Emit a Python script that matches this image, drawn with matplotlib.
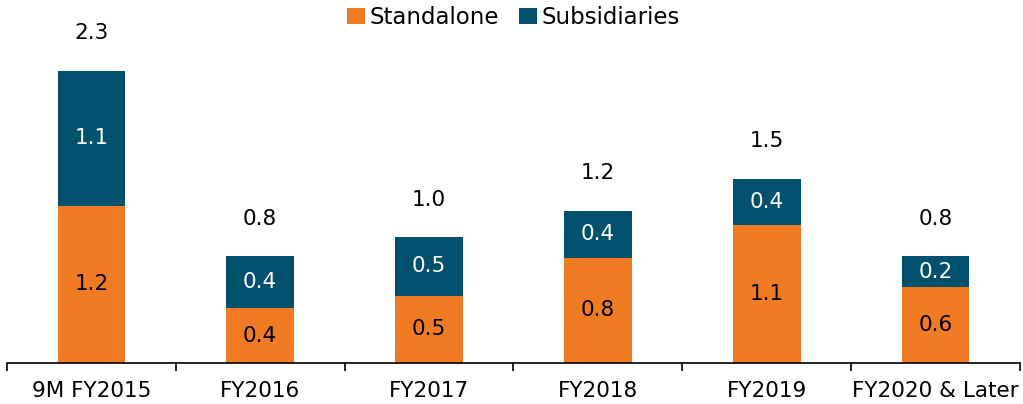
import matplotlib
matplotlib.use('Agg')
import matplotlib.pyplot as plt
import numpy as np

categories = ['9M FY2015', 'FY2016', 'FY2017', 'FY2018', 'FY2019', 'FY2020 & Later']
standalone = [1.24, 0.43, 0.53, 0.83, 1.09, 0.60]
subsidiaries = [1.06, 0.41, 0.46, 0.37, 0.36, 0.24]

orange = '#F07B22'
blue = '#00506E'

plt.rcParams['font.family'] = ['DejaVu Sans']
fig = plt.figure(figsize=(10.23, 4.04), dpi=100)
ax = fig.add_axes([7 / 1023, 41 / 404, 1013 / 1023, 363 / 404])

x = np.arange(len(categories))
totals = np.array(standalone) + np.array(subsidiaries)

ax.bar(x, standalone, width=0.4, color=orange, label='Standalone')
ax.bar(x, subsidiaries, width=0.4, bottom=standalone, color=blue, label='Subsidiaries')

fs = 15.5
for i in range(len(categories)):
    ax.text(x[i], standalone[i] / 2, '{:.1f}'.format(standalone[i]),
            ha='center', va='center', fontsize=fs, color='black')
    ax.text(x[i], standalone[i] + subsidiaries[i] / 2, '{:.1f}'.format(subsidiaries[i]),
            ha='center', va='center', fontsize=fs, color='white')
    ax.annotate('{:.1f}'.format(totals[i]), (x[i], totals[i]), xytext=(0, 27),
                textcoords='offset points', ha='center', va='center', fontsize=fs)

ax.set_xlim(-0.5, len(categories) - 0.5)
ax.set_ylim(0, 363 / 127)
ax.set_xticks(x)
ax.set_xticklabels(categories, fontsize=fs)
ax.tick_params(axis='x', length=0, pad=13)
ax.set_xticks(np.arange(len(categories) + 1) - 0.5, minor=True)
ax.tick_params(axis='x', which='minor', length=6, width=1.2, direction='out')
ax.set_yticks([])
for s in ['top', 'right', 'left']:
    ax.spines[s].set_visible(False)
ax.spines['bottom'].set_linewidth(1.2)

ax.legend(loc='upper center', bbox_to_anchor=(0.5, 0.99), ncol=2, frameon=False,
          fontsize=16.5, handlelength=0.75, handleheight=0.75, handletextpad=0.2,
          columnspacing=0.9, borderaxespad=0.0, borderpad=0.1)

fig.savefig('out.png', dpi=100)
